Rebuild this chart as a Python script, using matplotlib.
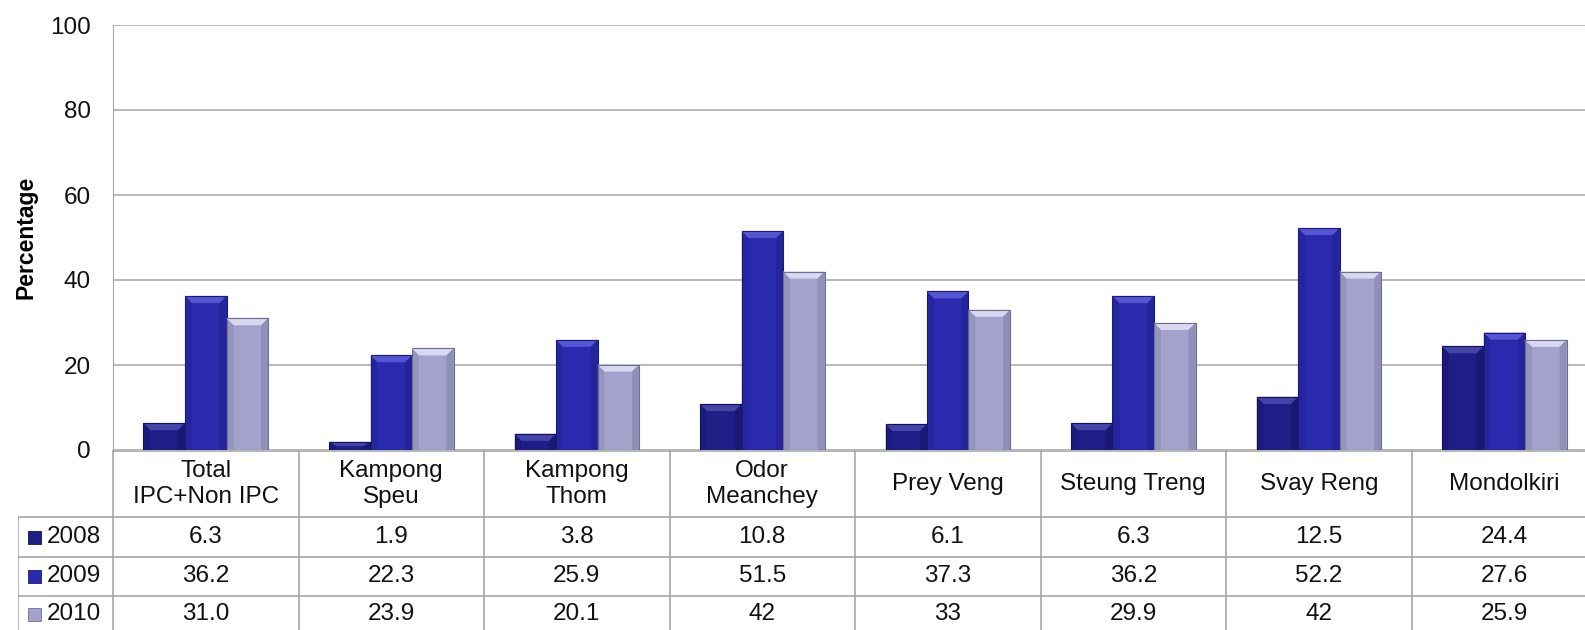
import matplotlib
matplotlib.use("Agg")
import matplotlib.pyplot as plt
from matplotlib.patches import Polygon, Rectangle
import numpy as np

plt.rcParams['font.family'] = ['Liberation Sans', 'DejaVu Sans']

categories = ["Total\nIPC+Non IPC", "Kampong\nSpeu", "Kampong\nThom", "Odor\nMeanchey",
              "Prey Veng", "Steung Treng", "Svay Reng", "Mondolkiri"]
years = ["2008", "2009", "2010"]
labels_2008 = ["6.3", "1.9", "3.8", "10.8", "6.1", "6.3", "12.5", "24.4"]
labels_2009 = ["36.2", "22.3", "25.9", "51.5", "37.3", "36.2", "52.2", "27.6"]
labels_2010 = ["31.0", "23.9", "20.1", "42", "33", "29.9", "42", "25.9"]
yticks = [0, 20, 40, 60, 80, 100]

series_labels = [labels_2008, labels_2009, labels_2010]
series_values = [[float(s) for s in lab] for lab in series_labels]

colors = ["#1e1e86", "#2a2aae", "#a2a2cc"]
light = ["#4444aa", "#5656d4", "#d8d8f0"]
dark = ["#121258", "#1a1a78", "#6e6e94"]

W, H = 1585, 630
fig = plt.figure(figsize=(W / 100, H / 100), dpi=100)

cat_w = 185.5
n = len(categories)
ax_left, ax_bottom, ax_top = 113, 180, 605
ax = fig.add_axes([ax_left / W, ax_bottom / H, n * cat_w / W, (ax_top - ax_bottom) / H])
ax.set_xlim(0, n)
ax.set_ylim(0, 100)
ax.set_yticks(yticks)
ax.set_xticks([])
ax.tick_params(axis='y', length=0, pad=16, labelsize=17.5, labelcolor='#111111')
ax.grid(axis='y', color='#a6a6a6', lw=1.1)
ax.set_axisbelow(True)
for s in ['top', 'right', 'bottom']:
    ax.spines[s].set_visible(False)
ax.spines['left'].set_color('#a6a6a6')
ax.set_ylabel("Percentage", fontsize=16.5, fontweight='bold', labelpad=9)

bw = 41.5 / cat_w
x = np.arange(n) + 0.5
bev_x = 7 / cat_w
bev_y = 7 / 4.25
for k in range(3):
    bars = ax.bar(x + (k - 1) * bw, series_values[k], width=bw, color=colors[k],
                  edgecolor=dark[k], linewidth=0.8, zorder=3)
    for b in bars:
        x0, y0 = b.get_x(), b.get_y()
        w, h = b.get_width(), b.get_height()
        by = min(bev_y, h / 2)
        ax.add_patch(Polygon([(x0, y0 + h), (x0 + w, y0 + h), (x0 + w - bev_x, y0 + h - by),
                              (x0 + bev_x, y0 + h - by)], closed=True, color=light[k], lw=0, zorder=4))
        ax.add_patch(Polygon([(x0, y0), (x0, y0 + h), (x0 + bev_x, y0 + h - by), (x0 + bev_x, y0)],
                             closed=True, color=dark[k], alpha=0.25, lw=0, zorder=4))
        ax.add_patch(Polygon([(x0 + w, y0), (x0 + w, y0 + h), (x0 + w - bev_x, y0 + h - by),
                              (x0 + w - bev_x, y0)], closed=True, color=dark[k], alpha=0.35, lw=0, zorder=4))
        ax.add_patch(Rectangle((x0, y0 + h), w, 0, fill=False, edgecolor=dark[k], lw=0.8, zorder=5))

# data table
leg_w = 95 / cat_w
tax = fig.add_axes([(ax_left - 95) / W, 0, (n * cat_w + 95) / W, ax_bottom / H])
tax.set_xlim(-leg_w, n)
tax.set_ylim(0, ax_bottom)
tax.axis('off')
gc = '#a0a0a0'
row_lines = [113, 73, 34]
tax.plot([0, n], [ax_bottom - 0.5, ax_bottom - 0.5], color=gc, lw=1.1)
for yl in row_lines:
    tax.plot([-leg_w, n], [yl, yl], color=gc, lw=1.1)
for i in range(n + 1):
    tax.plot([i, i], [-5, ax_bottom], color=gc, lw=1.1)
tax.plot([-leg_w, -leg_w], [-5, row_lines[0]], color=gc, lw=1.1)

fs = 17.5
for i, c in enumerate(categories):
    tax.text(i + 0.5, 146, c, ha='center', va='center', fontsize=fs, color='#111111', linespacing=1.25)
row_centers = [93, 53.5, 16]
for k in range(3):
    for i in range(n):
        tax.text(i + 0.5, row_centers[k], series_labels[k][i], ha='center', va='center',
                 fontsize=fs, color='#111111')
    tax.add_patch(Rectangle((-leg_w + 10 / cat_w, row_centers[k] - 6.5), 13 / cat_w, 13,
                            facecolor=colors[k], edgecolor=dark[k], lw=0.6))
    tax.text(-leg_w + 29 / cat_w, row_centers[k], years[k], ha='left', va='center',
             fontsize=fs, color='#111111')

fig.savefig("out.png", dpi=100)
